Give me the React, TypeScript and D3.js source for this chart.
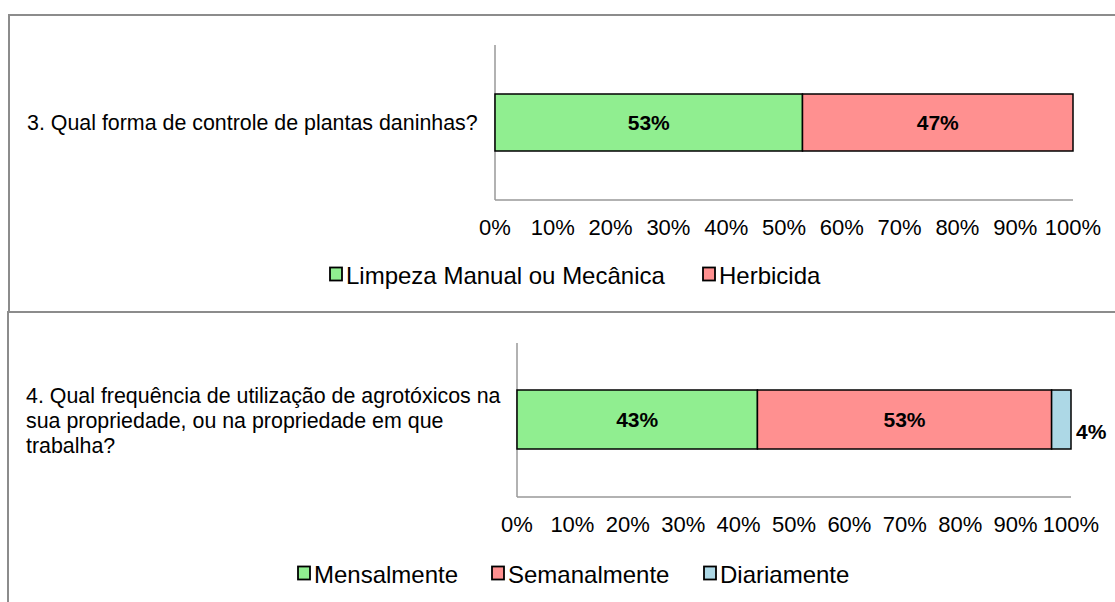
import React from "react";
import * as d3 from "d3";

const q3Label = "3. Qual forma de controle de plantas daninhas?";
const q3Series = ["Limpeza Manual ou Mecânica", "Herbicida"];
const q3Values = [53.2, 46.8];

const q4Lines = [
  "4. Qual frequência de utilização de agrotóxicos na",
  "sua propriedade, ou na propriedade em que",
  "trabalha?",
];
const q4Series = ["Mensalmente", "Semanalmente", "Diariamente"];
const q4Values = [43.4, 53.1, 3.5];

const ticks = [0, 10, 20, 30, 40, 50, 60, 70, 80, 90, 100];
const colors = ["#90ee90", "#ff9090", "#add8e6"];

const FONT = "'Liberation Sans', Arial, sans-serif";

type PanelProps = {
  x0: number; x1: number; axTop: number; axBottom: number;
  barTop: number; barBottom: number; tickY: number;
  values: number[]; series: string[]; legendY: number; legendX: number[];
  outsideLast?: boolean;
};

function Panel(p: PanelProps) {
  const x = d3.scaleLinear().domain([0, 100]).range([p.x0, p.x1]);
  let acc = 0;
  const segs = p.values.map((v, i) => {
    const s = { start: acc, end: acc + v, v, i };
    acc += v;
    return s;
  });
  const mid = (p.barTop + p.barBottom) / 2;
  return (
    <g>
      <line x1={p.x0} x2={p.x0} y1={p.axTop} y2={p.axBottom} stroke="#999" strokeWidth={1.5} />
      <line x1={p.x0} x2={p.x1} y1={p.axBottom} y2={p.axBottom} stroke="#999" strokeWidth={1.5} />
      {segs.map((s) => (
        <rect key={s.i} x={x(s.start)} y={p.barTop} width={x(s.end) - x(s.start)}
          height={p.barBottom - p.barTop} fill={colors[s.i]} stroke="#000" strokeWidth={1.5} />
      ))}
      {segs.map((s) => {
        const last = p.outsideLast && s.i === segs.length - 1;
        return (
          <text key={"l" + s.i} x={last ? x(s.end) + 5 : (x(s.start) + x(s.end)) / 2}
            y={last ? mid + 12 : mid} textAnchor={last ? "start" : "middle"}
            dominantBaseline="central" fontFamily={FONT} fontWeight="bold" fontSize={21}>
            {Math.round(s.v)}%
          </text>
        );
      })}
      {ticks.map((t) => (
        <text key={"t" + t} x={x(t)} y={p.tickY} textAnchor="middle" dominantBaseline="central"
          fontFamily={FONT} fontSize={22}>{t}%</text>
      ))}
      {p.series.map((name, i) => (
        <g key={"g" + i}>
          <rect x={p.legendX[i] + 1} y={p.legendY - 6.5} width={12} height={13} fill={colors[i]}
            stroke="#000" strokeWidth={1.8} />
          <text x={p.legendX[i] + 17} y={p.legendY + 1} dominantBaseline="central"
            fontFamily={FONT} fontSize={24}>{name}</text>
        </g>
      ))}
    </g>
  );
}

export default function App() {
  return (
    <svg width={1115} height={602} style={{ position: "absolute", left: 0, top: 0, background: "#fff" }}>
      <rect x={0} y={0} width={1115} height={602} fill="#fff" />
      <path d="M9,312 V15 H1116" fill="none" stroke="#8c8c8c" strokeWidth={2} />
      <path d="M8,603 V312 H1116" fill="none" stroke="#8c8c8c" strokeWidth={2} />
      <text x={27} y={123} dominantBaseline="central" fontFamily={FONT} fontSize={21.4}>{q3Label}</text>
      {q4Lines.map((l, i) => (
        <text key={i} x={26} y={396 + i * 25} dominantBaseline="central" fontFamily={FONT} fontSize={21.4}>{l}</text>
      ))}
      <Panel x0={495} x1={1073} axTop={45} axBottom={200} barTop={94} barBottom={151} tickY={227}
        values={q3Values} series={q3Series} legendY={274} legendX={[329, 702]} />
      <Panel x0={517} x1={1071} axTop={343} axBottom={497} barTop={390} barBottom={449} tickY={524}
        values={q4Values} series={q4Series} legendY={573} legendX={[297, 491, 703]} outsideLast />
    </svg>
  );
}
